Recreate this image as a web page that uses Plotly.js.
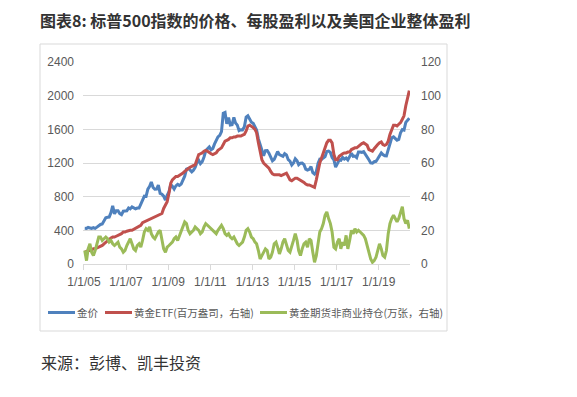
<!DOCTYPE html>
<html><head><meta charset="utf-8">
<script src="https://cdn.plot.ly/plotly-3.0.1.min.js"></script>
<style>html,body{margin:0;padding:0;background:#fff}#chart{width:577px;height:397px}</style>
</head><body><div id="chart"></div>
<script>
// Monthly observations, Jan 2005 .. Jun 2020
const firstYear = 2005;
const goldPrice = [
 424,423,434,429,422,431,424,438,456,470,476,510,
 549,555,557,610,690,596,633,632,598,586,627,629,
 631,665,655,679,667,655,665,665,712,754,806,803,
 889,922,975,909,888,890,939,839,829,806,760,816,
 858,943,924,890,928,946,934,949,996,1043,1127,1135,
 1118,1095,1113,1148,1205,1233,1193,1215,1271,1343,1370,1391,
 1356,1372,1424,1474,1510,1529,1572,1790,1800,1665,1739,1652,
 1656,1743,1674,1650,1585,1596,1594,1630,1744,1760,1722,1685,
 1671,1628,1593,1487,1414,1343,1286,1347,1349,1316,1275,1225,
 1244,1300,1336,1299,1288,1279,1311,1296,1239,1222,1176,1200,
 1251,1227,1179,1198,1199,1181,1128,1117,1125,1157,1086,1068,
 1097,1199,1246,1242,1260,1276,1337,1341,1326,1266,1236,1152,
 1192,1234,1231,1266,1246,1260,1236,1283,1315,1280,1283,1265,
 1331,1331,1325,1334,1303,1282,1238,1201,1198,1215,1220,1250,
 1291,1320,1300,1286,1284,1359,1413,1500,1510,1495,1471,1480,
 1560,1597,1591,1683,1715,1732
];
const etfHoldings = [
 7,7.5,8,8,8.5,9,9,9.5,10,10.3,11,12,
 13,14,15,15.5,16,16,16.5,17,17.5,18,19,19,
 19.5,20,20,20,20.5,21,21.5,22,23,24.5,25,25.5,
 26,26.5,27,27.5,28,28.5,29,29.5,30,33,35,37,
 42,48,50,51,52,52,52.5,53,54,55,56,57,
 57.5,58,58.5,59,62,65,65.5,66,67,67.5,67,66,
 65.5,65,65.5,66,67.5,68.5,69,71,73,73.5,74,75,
 75,75.5,75.5,76,76,76,76.5,77,79,82,82.5,82,
 81,80,78,72,66,62,60,59,58,57,55,53.5,
 53,53,53,53,52.5,53,53.5,54,52,50,49.5,50,
 51,51,50.5,50,49,48.5,47.5,47,47,46.5,46,45.5,
 50,56,60,63,66,69,72,73.5,73.5,72,65,62,
 62,64,65,65.5,66,66,66.5,66.5,68,68.5,69,69,
 70,71,71.5,72,71.5,70.5,68,67.5,67,68.5,70,71,
 72,72.5,71,70.5,71,73,77,80,82.5,82.5,82,83,
 84,86,88,94,99,103
];
const futuresNetLong = [
 8,2,9,12,7,5,8,12,16,16,14,15,
 16,15,13,14,12,11,12,13,10,9,7,8,
 11,13,15,12,9,8,11,12,10,14,19,21,
 20,22,18,16,15,17,19,20,15,9,7,10,
 11,12,13,15,16,14,17,20,22,25,24,20,
 18,19,20,22,21,20,18,19,22,24,23,22,
 21,20,19,18,20,22,23,21,18,17,18,16,
 15,16,14,12,11,12,13,16,20,21,19,16,
 15,13,12,8,3,5,7,9,8,3,4,7,
 12,13,10,6,9,13,15,12,8,7,10,14,
 18,14,8,5,9,12,13,10,15,14,7,1,
 5,13,19,21,24,29,31,27,24,19,10,9,
 13,15,9,13,11,17,9,14,20,18,21,19,
 20,19,18,17,15,11,7,3,1,2,4,8,
 12,9,5,4,8,18,24,27,29,27,25,27,
 30,34,27,24,26,21
];
const tickDates = ['2005-01-01','2007-01-01','2009-01-01','2011-01-01','2013-01-01','2015-01-01','2017-01-01','2019-01-01'];
const tickLabels = ['1/1/05','1/1/07','1/1/09','1/1/11','1/1/13','1/1/15','1/1/17','1/1/19'];
const seriesNames = ['金价','黄金ETF(百万盎司，右轴)','黄金期货非商业持仓(万张，右轴)'];
const seriesColors = ['#4f81bd','#c0504d','#9bbb59'];
const chartTitle = '图表8: 标普500指数的价格、每股盈利以及美国企业整体盈利';
const sourceText = '来源：彭博、凯丰投资';

const dates = goldPrice.map((_, i) => {
  const y = firstYear + Math.floor(i / 12);
  const m = (i % 12) + 1;
  return y + '-' + String(m).padStart(2, '0') + '-15';
});

// plot area in page pixels
const W = 577, H = 397;
const L = 83, R = 410, T = 62, B = 264;
const px = x => (x - L) / (R - L);
const py = y => (B - y) / (B - T);

const tickFont = {family: 'Liberation Sans, Arial, sans-serif', size: 12, color: '#595959'};
const cjk = 'Noto Sans CJK SC, sans-serif';

const traces = [
  {x: dates, y: goldPrice, name: seriesNames[0], type: 'scatter', mode: 'lines',
   line: {color: seriesColors[0], width: 3}, yaxis: 'y'},
  {x: dates, y: etfHoldings, name: seriesNames[1], type: 'scatter', mode: 'lines',
   line: {color: seriesColors[1], width: 3}, yaxis: 'y2'},
  {x: dates, y: futuresNetLong, name: seriesNames[2], type: 'scatter', mode: 'lines',
   line: {color: seriesColors[2], width: 3}, yaxis: 'y2'}
];

// legend drawn as line samples + text labels (single row like the original)
const legendY = 312.5;
const legendSampleX = [48, 105, 260];
const sampleLen = 27;
const legendShapes = seriesNames.map((n, i) => ({
  type: 'line', xref: 'paper', yref: 'paper',
  x0: px(legendSampleX[i]), x1: px(legendSampleX[i] + sampleLen), y0: py(legendY), y1: py(legendY),
  line: {color: seriesColors[i], width: 3}
}));
const legendLabels = seriesNames.map((n, i) => ({
  text: n, xref: 'paper', yref: 'paper', x: px(legendSampleX[i] + sampleLen + 1), xanchor: 'left',
  y: py(legendY), yanchor: 'middle', showarrow: false, borderpad: 0,
  font: {family: cjk, size: 10.5, color: '#595959'}
}));

const layout = {
  width: W, height: H,
  margin: {l: L, r: W - R, t: T, b: H - B, pad: 0},
  paper_bgcolor: '#fff', plot_bgcolor: 'rgba(0,0,0,0)',
  showlegend: false,
  title: {text: '<b>' + chartTitle + '</b>', xref: 'container', yref: 'container',
          x: 40 / W, xanchor: 'left', y: 1 - 21 / H, yanchor: 'middle',
          font: {family: cjk, size: 16, color: '#333'}},
  xaxis: {type: 'date', range: ['2004-12-16', '2020-06-27'],
          tickmode: 'array', tickvals: tickDates, ticktext: tickLabels,
          showgrid: false, zeroline: false, showline: true, linecolor: '#d9d9d9', linewidth: 1,
          ticks: 'outside', ticklen: 5, tickcolor: '#d9d9d9', tickfont: tickFont,
          ticklabelstandoff: 2},
  yaxis: {range: [0, 2400], tickmode: 'linear', tick0: 0, dtick: 400,
          showgrid: true, gridcolor: '#d9d9d9', gridwidth: 1, zeroline: false,
          showline: false, ticks: '', tickfont: tickFont, ticklabelstandoff: 8},
  yaxis2: {range: [0, 120], tickmode: 'linear', tick0: 0, dtick: 20, overlaying: 'y', side: 'right',
           showgrid: false, zeroline: false, showline: false, ticks: '', tickfont: tickFont,
           ticklabelstandoff: 10},
  shapes: [{type: 'rect', xref: 'paper', yref: 'paper', x0: px(40), x1: px(447), y0: py(331), y1: py(44),
            line: {color: '#d9d9d9', width: 1}, fillcolor: 'rgba(0,0,0,0)', layer: 'below'}]
            .concat(legendShapes),
  annotations: [{text: sourceText, xref: 'paper', yref: 'paper', x: px(39), xanchor: 'left',
                 y: py(362), yanchor: 'middle', showarrow: false,
                 font: {family: cjk, size: 16, color: '#333'}}].concat(legendLabels)
};

Plotly.newPlot('chart', traces, layout, {displayModeBar: false, staticPlot: true});
</script></body></html>
